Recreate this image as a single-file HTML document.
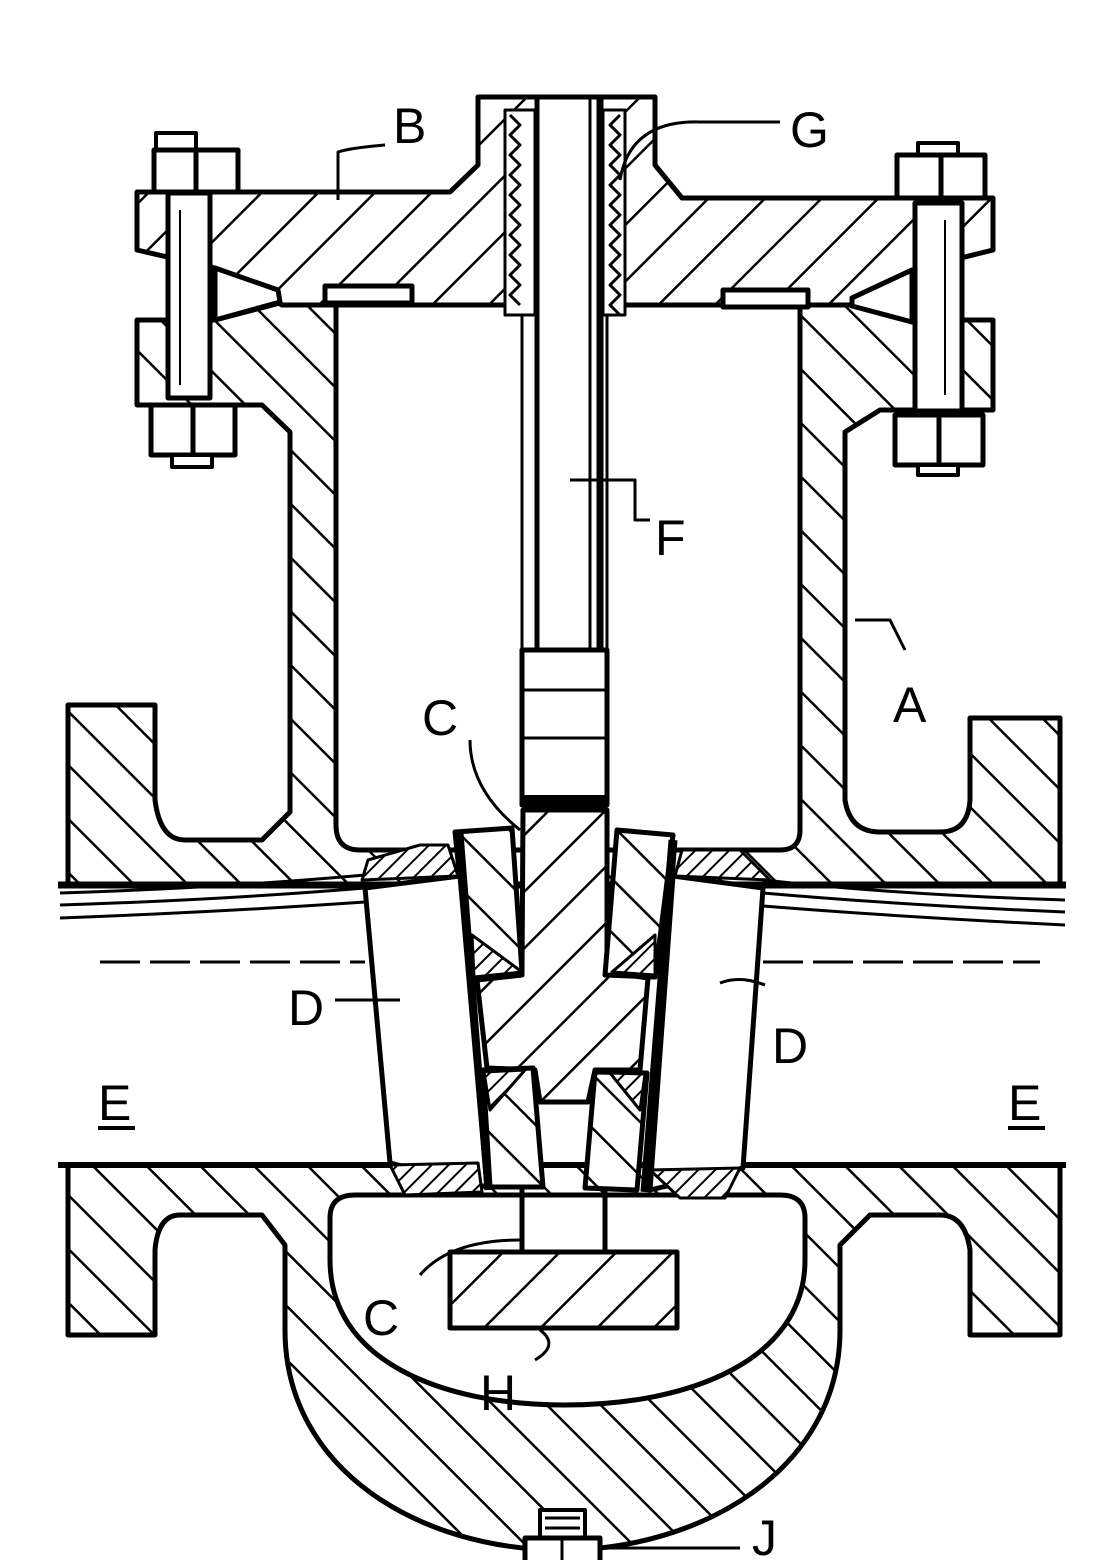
<!DOCTYPE html>
<html><head><meta charset="utf-8"><style>
html,body{margin:0;padding:0;background:#fff;}
svg{display:block;}
text{font-family:"Liberation Sans",sans-serif;font-size:50px;fill:#000;}
</style></head><body>
<svg width="1120" height="1560" viewBox="0 0 1120 1560" xmlns="http://www.w3.org/2000/svg">
<defs>
<pattern id="hb" patternUnits="userSpaceOnUse" width="38" height="38" patternTransform="rotate(-45)">
<rect width="38" height="38" fill="#fff"/><line x1="0" y1="0" x2="0" y2="38" stroke="#000" stroke-width="5"/></pattern>
<pattern id="hf" patternUnits="userSpaceOnUse" width="40" height="40" patternTransform="rotate(45)">
<rect width="40" height="40" fill="#fff"/><line x1="0" y1="0" x2="0" y2="40" stroke="#000" stroke-width="5"/></pattern>
<pattern id="hs" patternUnits="userSpaceOnUse" width="12" height="12" patternTransform="rotate(45)">
<rect width="12" height="12" fill="#fff"/><line x1="0" y1="0" x2="0" y2="12" stroke="#000" stroke-width="4"/></pattern>
</defs>
<g stroke="#000" stroke-width="5" stroke-linejoin="round" fill="none">

<!-- Body -->
<path fill="url(#hb)" d="M68,705 H155 V800 Q160,840 185,840 H262 L290,812 V432 L262,405 H137 V320 L215,320 L280,303 H850 L912,320 H993 V410 H880 L845,432 V800 Q850,832 880,832 H940 Q968,832 970,800 V718 H1060 V1335 H970 V1250 Q965,1215 940,1215 H870 L840,1245 V1330 C840,1470 700,1550 562,1550 C420,1550 285,1470 285,1330 V1245 L262,1215 H180 Q158,1215 155,1250 V1335 H68 Z"/>

<!-- upper cavity -->
<path fill="#fff" d="M336,305 H800 V830 Q800,850 780,850 H360 Q336,850 336,825 Z"/>
<!-- pipe passage -->
<rect x="60" y="885" width="1005" height="280" fill="#fff" stroke="none"/>
<line x1="58" y1="885" x2="1066" y2="885" stroke-width="7"/>
<line x1="58" y1="1165" x2="1066" y2="1165" stroke-width="6"/>
<path d="M60,893 Q220,888 365,875 M60,905 Q220,900 365,888 M60,918 Q220,912 365,902 M763,880 Q900,895 1065,900 M763,893 Q900,905 1065,912 M763,906 Q900,917 1065,925" stroke-width="3"/>
<path d="M100,962 H365 M763,962 H1040" stroke-width="3" stroke-dasharray="40,10"/>
<!-- bowl cavity -->
<path fill="#fff" d="M330,1218 Q330,1195 355,1195 H780 Q805,1195 805,1218 V1260 C805,1360 690,1405 565,1405 C440,1405 330,1360 330,1260 Z"/>

<!-- Bonnet -->
<path fill="url(#hf)" d="M478,97 H655 V165 L682,198 H993 V250 L912,270 L852,298 V305 H282 L215,268 L137,250 V192 H450 L478,165 Z"/>
<!-- gasket wedges -->
<path fill="#fff" d="M215,268 L278,290 L280,302 L215,320 Z"/>
<path fill="#fff" d="M912,270 L852,298 L852,306 L912,322 Z"/>
<rect x="325" y="286" width="87" height="17" fill="#fff"/>
<rect x="723" y="290" width="85" height="17" fill="#fff"/>

<!-- stem & threads -->
<rect x="537" y="97" width="63" height="555" fill="#fff"/>
<line x1="590" y1="97" x2="590" y2="650" stroke-width="3"/>
<line x1="600" y1="97" x2="600" y2="650" stroke-width="7"/>
<rect x="505" y="110" width="30" height="205" fill="#fff" stroke-width="3"/>
<rect x="603" y="110" width="22" height="205" fill="#fff" stroke-width="3"/>
<path d="M510,115 l10,10 l-10,10 l10,10 l-10,10 l10,10 l-10,10 l10,10 l-10,10 l10,10 l-10,10 l10,10 l-10,10 l10,10 l-10,10 l10,10 l-10,10 l10,10 l-10,10 l10,10 M620,115 l-10,10 l10,10 l-10,10 l10,10 l-10,10 l10,10 l-10,10 l10,10 l-10,10 l10,10 l-10,10 l10,10 l-10,10 l10,10 l-10,10 l10,10 l-10,10 l10,10 l-10,10 l10,10" stroke-width="3"/>
<line x1="522" y1="315" x2="522" y2="650" stroke-width="3"/>
<line x1="607" y1="315" x2="607" y2="650" stroke-width="3"/>
<!-- coupling -->
<rect x="522" y="650" width="85" height="155" fill="#fff"/>
<line x1="522" y1="690" x2="607" y2="690" stroke-width="3"/>
<line x1="522" y1="738" x2="607" y2="738" stroke-width="3"/>
<line x1="522" y1="800" x2="607" y2="800" stroke-width="10"/>

<!-- gate wedge center -->
<path fill="url(#hf)" d="M523,810 H607 V972 L648,978 L640,1070 L595,1070 L588,1102 L540,1102 L535,1070 L487,1068 L477,980 L522,975 Z"/>
<!-- disc pieces -->
<path fill="url(#hb)" d="M455,832 L512,828 L522,972 L470,977 Z"/>
<path fill="url(#hs)" d="M472,935 L522,972 L474,977 Z" stroke-width="3"/>
<path fill="url(#hb)" d="M483,1070 L533,1068 L543,1187 L490,1187 Z"/>
<path fill="url(#hs)" d="M484,1072 L525,1070 L490,1110 Z" stroke-width="3"/>
<path fill="url(#hb)" d="M617,830 L673,835 L655,977 L605,975 Z"/>
<path fill="url(#hs)" d="M655,935 L612,972 L655,975 Z" stroke-width="3"/>
<path fill="url(#hb)" d="M595,1072 L647,1073 L637,1190 L585,1188 Z"/>
<path fill="url(#hs)" d="M610,1073 L645,1074 L640,1110 Z" stroke-width="3"/>

<!-- seat rings D -->
<path fill="#fff" d="M365,888 L460,876 L487,1187 L390,1163 Z"/>
<line x1="460" y1="833" x2="488" y2="1190" stroke-width="7"/>
<path fill="#fff" d="M763,888 L673,876 L650,1190 L743,1168 Z"/>
<line x1="673" y1="840" x2="645" y2="1192" stroke-width="9"/>
<!-- threaded mounts -->
<path fill="url(#hs)" d="M362,880 L368,860 L420,845 L448,845 L458,876 Z" stroke-width="3"/>
<path fill="url(#hs)" d="M675,876 L682,850 L740,850 L770,880 Z" stroke-width="3"/>
<path fill="url(#hs)" d="M390,1165 L478,1163 L482,1192 L405,1195 Z" stroke-width="3"/>
<path fill="url(#hs)" d="M650,1170 L740,1168 L725,1198 L680,1198 Z" stroke-width="3"/>

<!-- lower stem & plate H -->
<line x1="522" y1="1188" x2="522" y2="1252"/>
<line x1="605" y1="1188" x2="605" y2="1252"/>
<rect x="450" y="1252" width="227" height="76" fill="url(#hf)"/>

<!-- bolts -->
<rect x="168" y="193" width="42" height="205" fill="#fff"/>
<line x1="180" y1="210" x2="180" y2="385" stroke-width="2"/>
<rect x="156" y="133" width="40" height="20" fill="#fff" stroke-width="4"/>
<rect x="154" y="150" width="42" height="42" fill="#fff"/><rect x="196" y="150" width="42" height="42" fill="#fff"/>
<rect x="151" y="405" width="42" height="50" fill="#fff"/><rect x="193" y="405" width="42" height="50" fill="#fff"/>
<rect x="172" y="455" width="40" height="12" fill="#fff" stroke-width="4"/>
<rect x="915" y="203" width="47" height="208" fill="#fff"/>
<line x1="945" y1="220" x2="945" y2="395" stroke-width="2"/>
<rect x="918" y="143" width="40" height="15" fill="#fff" stroke-width="4"/>
<rect x="897" y="155" width="44" height="43" fill="#fff"/><rect x="941" y="155" width="44" height="43" fill="#fff"/>
<rect x="895" y="415" width="44" height="50" fill="#fff"/><rect x="939" y="415" width="44" height="50" fill="#fff"/>
<rect x="918" y="465" width="40" height="10" fill="#fff" stroke-width="4"/>

<!-- drain J -->
<rect x="540" y="1510" width="45" height="32" fill="#fff" stroke-width="4"/>
<path d="M545,1518 H580 M545,1528 H580" stroke-width="3"/>
<rect x="525" y="1538" width="75" height="25" fill="#fff"/>
<line x1="562" y1="1538" x2="562" y2="1563" stroke-width="3"/>

<!-- leaders -->
<g stroke-width="3">
<path d="M385,145 Q350,148 338,152 V200"/>
<path d="M620,180 Q630,120 700,122 H780"/>
<path d="M570,480 H635 V520 L650,520"/>
<path d="M470,740 Q470,790 520,830"/>
<path d="M855,620 H890 L905,650"/>
<path d="M335,1000 H400"/>
<path d="M720,983 Q740,975 765,985"/>
<path d="M420,1275 Q450,1240 520,1240"/>
<path d="M540,1330 Q560,1345 535,1360"/>
<path d="M600,1548 H740"/>
</g>
</g>

<!-- labels -->
<text x="393" y="143">B</text>
<text x="790" y="147">G</text>
<text x="655" y="555">F</text>
<text x="422" y="735">C</text>
<text x="893" y="722">A</text>
<text x="288" y="1025">D</text>
<text x="772" y="1063">D</text>
<text x="98" y="1120">E</text>
<text x="1008" y="1120">E</text>
<text x="363" y="1335">C</text>
<text x="480" y="1410">H</text>
<text x="752" y="1555">J</text>
<g stroke="#000" stroke-width="4"><line x1="98" y1="1128" x2="135" y2="1128"/><line x1="1008" y1="1128" x2="1045" y2="1128"/></g>
</svg>
</body></html>
